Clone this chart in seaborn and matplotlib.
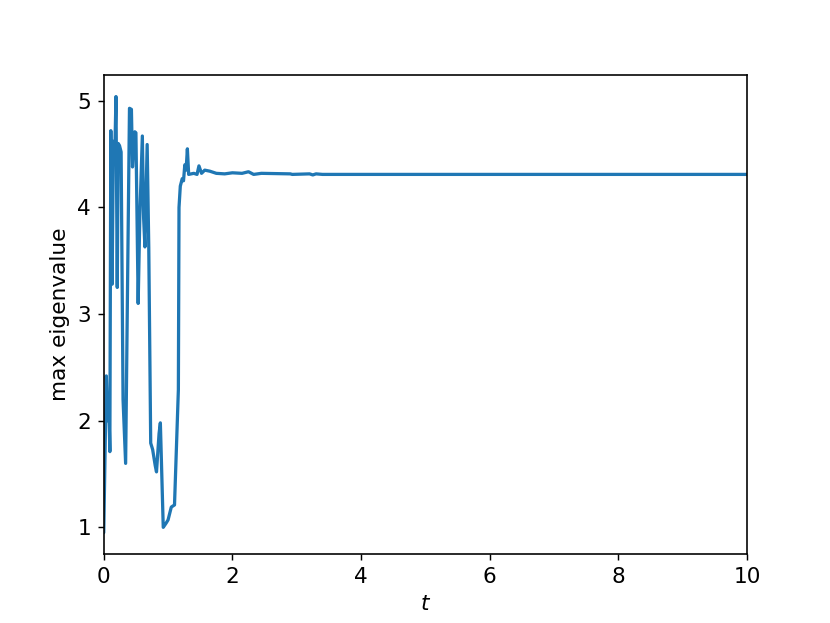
import matplotlib
matplotlib.use("Agg")
import matplotlib.pyplot as plt
from matplotlib.ticker import MultipleLocator
import seaborn as sns
import pandas as pd

t_values = [0.00, 0.04, 0.06, 0.075, 0.095, 0.11, 0.13, 0.15, 0.17, 0.19,
            0.21, 0.225, 0.245, 0.27, 0.30, 0.34, 0.40, 0.43, 0.447, 0.483,
            0.50, 0.535, 0.56, 0.60, 0.62, 0.64, 0.675, 0.70, 0.73, 0.76,
            0.80, 0.82, 0.86, 0.88, 0.925, 0.97, 1.00, 1.05, 1.10, 1.16,
            1.17, 1.19, 1.22, 1.24, 1.26, 1.28, 1.30, 1.32, 1.40, 1.45,
            1.48, 1.52, 1.57, 1.65, 1.75, 1.88, 2.00, 2.15, 2.25, 2.33,
            2.45, 2.90, 2.93, 3.20, 3.25, 3.30, 3.40, 10.0]
max_eig = [0.95, 2.42, 2.00, 2.25, 1.71, 4.72, 3.28, 4.62, 4.45, 5.04,
           3.25, 4.60, 4.58, 4.52, 2.20, 1.60, 4.93, 4.92, 4.38, 4.71,
           4.70, 3.10, 3.90, 4.67, 3.90, 3.63, 4.59, 3.62, 1.79, 1.73,
           1.58, 1.52, 1.88, 1.98, 1.00, 1.04, 1.07, 1.19, 1.21, 2.29,
           4.00, 4.20, 4.27, 4.25, 4.40, 4.35, 4.55, 4.31, 4.32, 4.31,
           4.39, 4.32, 4.35, 4.34, 4.32, 4.315, 4.325, 4.32, 4.335, 4.31,
           4.32, 4.315, 4.31, 4.315, 4.305, 4.315, 4.31, 4.31]

df = pd.DataFrame({"t": t_values, "max eigenvalue": max_eig})

sns.set_style("ticks")
plt.rcParams["font.family"] = ["DejaVu Sans"]
plt.rcParams["text.color"] = "black"
plt.rcParams["axes.labelcolor"] = "black"
plt.rcParams["xtick.color"] = "black"
plt.rcParams["ytick.color"] = "black"
plt.rcParams["axes.edgecolor"] = "black"

fig, ax = plt.subplots(figsize=(830 / 130, 623 / 130), dpi=130)
fig.subplots_adjust(left=0.125, right=0.9, bottom=0.11, top=0.88)
sns.lineplot(data=df, x="t", y="max eigenvalue", estimator=None, sort=False,
             color="#1f77b4", linewidth=1.8, ax=ax)
ax.set_xlim(0, 10)
ax.yaxis.set_major_locator(MultipleLocator(1))
ax.set_xlabel("$t$", fontsize=12)
ax.set_ylabel("max eigenvalue", fontsize=12)
ax.tick_params(labelsize=12, colors="black")
for s in ax.spines.values():
    s.set_visible(True)
    s.set_linewidth(0.9)
    s.set_color("black")
fig.savefig("out.png", dpi=130)
